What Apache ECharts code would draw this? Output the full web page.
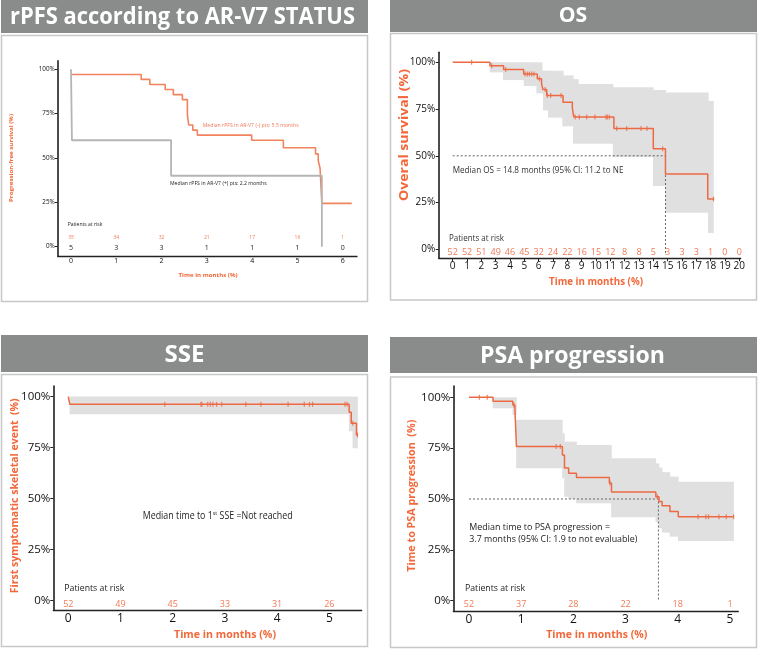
<!DOCTYPE html>
<html><head><meta charset="utf-8">
<script src="https://cdn.jsdelivr.net/npm/echarts@6/dist/echarts.min.js"></script>
<style>html,body{margin:0;padding:0;background:#fff}#c{width:758px;height:650px}</style>
</head><body><div id="c"></div>
<script>
// ================= DATA =================
// Panel 1: rPFS according to AR-V7 status (Kaplan-Meier steps: time in months, survival %)
const rpfsNegT = [0, 1.55, 1.74, 2.08, 2.26, 2.46, 2.57, 2.60, 2.69, 2.79, 3.99, 4.69, 5.40, 5.46, 5.50, 5.54, 6.20];
const rpfsNegS = [97.1, 94.3, 91.4, 88.6, 85.7, 82.9, 74.3, 68.6, 65.7, 62.9, 60.0, 55.8, 52.3, 48.5, 44.2, 24.4, 24.4];
const rpfsPosT = [0, 0.02, 2.21, 5.54];
const rpfsPosS = [100, 60, 40, 0];
const rpfsMonths = [0, 1, 2, 3, 4, 5, 6];
const rpfsRiskNeg = [35, 34, 32, 21, 17, 16, 1];
const rpfsRiskPos = [5, 3, 3, 1, 1, 1, 0];

// Panel 2: OS
const osT = [0, 2.6, 3.55, 4.95, 5.9, 6.2, 6.3, 6.56, 7.7, 8.35, 8.45, 11.25, 14.0, 14.85, 17.8, 18.25];
const osS = [100, 98.1, 96.1, 93.8, 91.2, 88.5, 85.4, 82.2, 78.6, 75.5, 70.8, 64.6, 53.8, 40.3, 26.9, 26.9];
const osCensor = [1.32, 2.72, 3.70, 5.05, 5.21, 5.35, 5.51, 5.67, 6.05, 6.45, 6.60, 6.84, 7.56, 8.55, 8.84, 9.35, 9.93, 10.70, 10.79, 10.93, 11.45, 12.14, 13.14, 13.56, 14.65, 18.2];
const osBandT = [2.6, 3.53, 4.98, 5.86, 6.25, 6.32, 6.67, 7.67, 7.72, 8.42, 8.77, 11.2, 14.0, 14.86, 17.84, 18.2];
const osBandLo = [94.6, 90.5, 87.3, 83.4, 83.4, 74.3, 70.4, 65.8, 65.8, 56.5, 56.5, 49.3, 33.9, 19.6, 8.7];
const osBandHi = [100, 100, 100, 100, 95.5, 95.5, 95.5, 95.5, 93.0, 91.0, 88.4, 86.6, 85.2, 83.8, 79.3];
const osMonths = [0, 1, 2, 3, 4, 5, 6, 7, 8, 9, 10, 11, 12, 13, 14, 15, 16, 17, 18, 19, 20];
const osRisk = [52, 52, 51, 49, 46, 45, 32, 24, 22, 16, 15, 12, 8, 8, 5, 3, 3, 3, 1, 0, 0];
const osMedian = 14.85;

// Panel 3: SSE
const sseT = [0, 0.03, 5.38, 5.42, 5.52, 5.55];
const sseS = [100, 96.2, 92.3, 86.9, 81.2, 81.2];
const sseCensor = [1.85, 2.54, 2.56, 2.67, 2.72, 2.77, 2.84, 2.94, 3.40, 3.69, 4.21, 4.52, 4.62, 4.68, 5.30, 5.34, 5.45, 5.54];
const sseBandT = [0.03, 5.38, 5.45, 5.54];
const sseBandLo = [91.3, 83.0, 74.7];
const sseBandHi = [100, 100, 100];
const sseMonths = [0, 1, 2, 3, 4, 5];
const sseRisk = [52, 49, 45, 33, 31, 26];

// Panel 4: PSA progression
const psaT = [0, 0.46, 0.84, 0.88, 0.91, 1.79, 1.83, 1.91, 2.06, 2.69, 2.73, 3.58, 3.64, 3.70, 3.85, 4.01, 5.07];
const psaS = [100, 98.1, 96.2, 94.2, 75.8, 71.6, 65.2, 62.6, 60.6, 57.9, 53.5, 51.1, 48.8, 46.7, 43.8, 41.3, 41.3];
const psaCensor = [0.2, 0.35, 0.86, 1.67, 1.75, 2.70, 3.61, 4.39, 4.54, 4.59, 4.79, 4.93, 5.07];
const psaBandT = [0.46, 0.84, 0.91, 1.79, 1.83, 1.91, 2.06, 2.73, 3.58, 3.64, 3.70, 3.85, 4.01, 5.07];
const psaBandLo = [94.6, 91.3, 65.1, 60.2, 51.1, 50.0, 47.9, 41.0, 38.6, 35.6, 33.5, 31.5, 29.4];
const psaBandHi = [100, 100, 89.0, 82.3, 78.2, 78.2, 76.5, 70.0, 67.5, 65.5, 63.2, 61.0, 58.5];
const psaMonths = [0, 1, 2, 3, 4, 5];
const psaRisk = [52, 37, 28, 22, 18, 1];
const psaMedian = 3.63;

const yTicks = [0, 25, 50, 75, 100];

// ================= HELPERS =================
const FONT = '"Open Sans", "Noto Sans", sans-serif';
const RED_LINE = '#ec6944';
const RED_TXT = '#f2683a';
const RISK_RED = '#f07a58';
const BAND = '#e0e0e0';

const mctx = document.createElement('canvas').getContext('2d');
function measure(text, size, bold) {
  mctx.font = (bold ? 'bold ' : '') + size + 'px ' + FONT;
  return mctx.measureText(text).width;
}
function txt(text, x, y, size, color, opt) {
  opt = opt || {};
  const w = measure(text, size, opt.bold);
  const sx = opt.width ? opt.width / w : 1;
  const al = opt.align || 'left';
  return {
    type: 'text', x: x, y: y, rotation: opt.rot || 0, scaleX: sx, z: 100,
    style: { text: text, fill: color, font: (opt.bold ? 'bold ' : '') + size + 'px ' + FONT,
      align: al, textAlign: al, verticalAlign: 'middle', textVerticalAlign: 'middle' }
  };
}
function pts(T, S) { return T.map((t, i) => [t, S[i]]); }
function survAt(T, S, t) { let v = S[0]; for (let i = 0; i < T.length; i++) { if (T[i] <= t + 1e-9) v = S[i]; } return v; }
function bandData(T, lo, hi) { const d = []; for (let i = 0; i < lo.length; i++) d.push([T[i], T[i + 1], lo[i], hi[i]]); return d; }

function kmSeries(idx, T, S, color, width, z) {
  return { type: 'line', xAxisIndex: idx, yAxisIndex: idx, data: pts(T, S), step: 'end', symbol: 'none',
    lineStyle: { color: color, width: width }, z: z || 5, silent: true };
}
function bandSeries(idx, T, lo, hi) {
  return { type: 'custom', xAxisIndex: idx, yAxisIndex: idx, data: bandData(T, lo, hi), z: 1, silent: true,
    encode: { x: [0, 1], y: [2, 3] },
    renderItem: function (params, api) {
      const p0 = api.coord([api.value(0), api.value(3)]);
      const p1 = api.coord([api.value(1), api.value(2)]);
      return { type: 'rect', shape: { x: p0[0] - 0.3, y: p0[1], width: p1[0] - p0[0] + 0.6, height: p1[1] - p0[1] },
        style: { fill: BAND } };
    } };
}
function censorSeries(idx, C, T, S, color, h) {
  return { type: 'scatter', xAxisIndex: idx, yAxisIndex: idx, data: C.map(t => [t, survAt(T, S, t)]),
    symbol: 'rect', symbolSize: [1.2, h], itemStyle: { color: color }, z: 6, silent: true };
}
function riskSeries(idx, months, vals, yPos, color, size) {
  return { type: 'custom', xAxisIndex: idx, yAxisIndex: idx, data: months.map((m, i) => [m, yPos, vals[i]]), z: 20, silent: true,
    encode: { x: 0, y: 1 },
    renderItem: function (params, api) {
      const p = api.coord([api.value(0), api.value(1)]);
      return { type: 'text', x: p[0], y: p[1],
        style: { text: String(api.value(2)), fill: color, font: size + 'px ' + FONT,
          align: 'center', textAlign: 'center', verticalAlign: 'middle', textVerticalAlign: 'middle' } };
    } };
}
function medianSeries(idx, med, bottom) {
  return { type: 'line', xAxisIndex: idx, yAxisIndex: idx, data: [[0, 50], [med, 50], [med, bottom]], symbol: 'none',
    lineStyle: { color: '#666', width: 1, type: [2, 2] }, z: 3, silent: true };
}
function xAx(idx, min, max, months, fs, margin, tickLen) {
  return { type: 'value', gridIndex: idx, min: min, max: max, splitLine: { show: false },
    axisLine: { show: true, onZero: false, lineStyle: { color: '#222', width: 1.3 } },
    axisTick: { show: tickLen > 0, length: tickLen, customValues: months, lineStyle: { color: '#222' } },
    axisLabel: { customValues: months, fontSize: fs, color: '#111', margin: margin, fontFamily: FONT } };
}
function yAx(idx, min, max, fs, margin) {
  return { type: 'value', gridIndex: idx, min: min, max: max, splitLine: { show: false },
    axisLine: { show: true, onZero: false, lineStyle: { color: '#111', width: 1.5 } },
    axisTick: { show: true, length: 3, customValues: yTicks, lineStyle: { color: '#222' } },
    axisLabel: { customValues: yTicks, fontSize: fs, color: '#111', margin: margin, fontFamily: FONT, formatter: v => v + '%' } };
}

// ================= GRAPHICS (frames, titles, texts) =================
const TB = '#8a8c8c';
const graphics = [
  { type: 'rect', shape: { x: 1, y: 0, width: 367, height: 33 }, style: { fill: TB } },
  { type: 'rect', shape: { x: 390, y: 0, width: 367, height: 32 }, style: { fill: TB } },
  { type: 'rect', shape: { x: 1, y: 335, width: 367, height: 37 }, style: { fill: TB } },
  { type: 'rect', shape: { x: 390, y: 337, width: 367, height: 36 }, style: { fill: TB } },
  { type: 'rect', shape: { x: 1.5, y: 35.5, width: 366, height: 266 }, style: { fill: 'none', stroke: '#c8c8c8', lineWidth: 1.5 } },
  { type: 'rect', shape: { x: 390.5, y: 33.5, width: 366, height: 266.5 }, style: { fill: 'none', stroke: '#c8c8c8', lineWidth: 1.5 } },
  { type: 'rect', shape: { x: 1.5, y: 374.5, width: 366, height: 272 }, style: { fill: 'none', stroke: '#c8c8c8', lineWidth: 1.5 } },
  { type: 'rect', shape: { x: 390.5, y: 377, width: 366, height: 270.5 }, style: { fill: 'none', stroke: '#c8c8c8', lineWidth: 1.5 } },
  txt('rPFS according to AR-V7 STATUS', 182.5, 17, 23, '#fff', { bold: true, align: 'center', width: 345 }),
  txt('OS', 573, 16, 21, '#fff', { bold: true, align: 'center', width: 28.5 }),
  txt('SSE', 184.5, 355, 23, '#fff', { bold: true, align: 'center', width: 40 }),
  txt('PSA progression', 572.5, 356.5, 23, '#fff', { bold: true, align: 'center', width: 185 }),
  // Panel 1 texts
  txt('Median rPFS in AR-V7 (-) pts: 5.5 months', 202.7, 125.7, 5.5, '#f0785a', { width: 96 }),
  txt('Median rPFS in AR-V7 (+) pts: 2.2 months', 170, 183.3, 5.5, '#222', { width: 96.7 }),
  txt('Patients at risk', 67.7, 224.5, 5, '#222', { width: 34.7 }),
  txt('Progression-free survival (%)', 11, 158, 5.5, RED_TXT, { bold: true, align: 'center', rot: Math.PI / 2, width: 88 }),
  txt('Time in months (%)', 208, 275, 6, RED_TXT, { bold: true, align: 'center', width: 59 }),
  // Panel 2 texts
  txt('Median OS = 14.8 months (95% CI: 11.2 to NE', 452.7, 170.7, 9, '#333', { width: 170.7 }),
  txt('Patients at risk', 449, 238.3, 8.5, '#333', { width: 55 }),
  txt('Overal survival (%)', 405, 135, 12, RED_TXT, { bold: true, align: 'center', rot: Math.PI / 2, width: 132 }),
  txt('Time in months (%)', 596, 281.7, 10.5, RED_TXT, { bold: true, align: 'center', width: 94 }),
  // Panel 3 texts
  { type: 'text', x: 142.7, y: 515.7, z: 100, scaleX: 150 / (measure('Median time to 1 SSE =Not reached', 10) + measure('st', 6)),
    style: { text: '{a|Median time to 1}{s|st}{a| SSE =Not reached}', align: 'left', textAlign: 'left', verticalAlign: 'middle', textVerticalAlign: 'middle',
      rich: { a: { fontSize: 10, fontFamily: FONT, fill: '#222', color: '#222' },
              s: { fontSize: 6, fontFamily: FONT, fill: '#222', color: '#222', verticalAlign: 'top', padding: [0, 0, 5, 0] } } } },
  txt('Patients at risk', 64.3, 589, 8.5, '#222', { width: 60 }),
  txt('First symptomatic skeletal event  (%)', 15, 495.8, 11, RED_TXT, { bold: true, align: 'center', rot: Math.PI / 2, width: 195 }),
  txt('Time in months (%)', 225, 635, 11, RED_TXT, { bold: true, align: 'center', width: 102 }),
  // Panel 4 texts
  txt('Median time to PSA progression =', 469.3, 527.3, 9.5, '#222', { width: 140.7 }),
  txt('3.7 months (95% CI: 1.9 to not evaluable)', 469.3, 539.3, 9.5, '#222', { width: 168 }),
  txt('Patients at risk', 465, 588.3, 8.5, '#222', { width: 60 }),
  txt('Time to PSA progression  (%)', 411.7, 495.7, 11, RED_TXT, { bold: true, align: 'center', rot: Math.PI / 2, width: 152 }),
  txt('Time in months (%)', 596.7, 635, 11, RED_TXT, { bold: true, align: 'center', width: 101 })
];

// ================= OPTION =================
const option = {
  animation: false,
  backgroundColor: '#fff',
  textStyle: { fontFamily: FONT },
  grid: [
    { left: 57.7, top: 60.7, width: 299.3, height: 195.3 },
    { left: 438.7, top: 52.3, width: 302, height: 206 },
    { left: 53.3, top: 386, width: 308.4, height: 224 },
    { left: 453.3, top: 386, width: 285, height: 225 }
  ],
  xAxis: [
    xAx(0, -0.294, 6.316, rpfsMonths, 7, 1.5, 0),
    xAx(1, -0.977, 20.1, osMonths, 10, 3, 3),
    xAx(2, -0.287, 5.62, sseMonths, 12, 3, 0),
    xAx(3, -0.30, 5.16, psaMonths, 12, 3, 0)
  ],
  yAxis: [
    yAx(0, -5.24, 104.85, 6.3, 3),
    yAx(1, -4.81, 105.35, 10, 3.5),
    yAx(2, -4.56, 105.2, 11.5, 3),
    yAx(3, -5.06, 105.55, 11.5, 3)
  ],
  graphic: graphics,
  series: [
    // Panel 1
    kmSeries(0, rpfsNegT, rpfsNegS, '#f2835f', 1.6, 5),
    kmSeries(0, rpfsPosT, rpfsPosS, '#b5b5b5', 1.8, 6),
    riskSeries(0, rpfsMonths, rpfsRiskNeg, 4.9, RISK_RED, 5),
    riskSeries(0, rpfsMonths, rpfsRiskPos, -0.9, '#222', 7),
    // Panel 2
    bandSeries(1, osBandT, osBandLo, osBandHi),
    medianSeries(1, osMedian, -2),
    kmSeries(1, osT, osS, RED_LINE, 1.5, 5),
    censorSeries(1, osCensor, osT, osS, RED_LINE, 5),
    riskSeries(1, osMonths, osRisk, -1.8, RISK_RED, 9),
    // Panel 3
    bandSeries(2, sseBandT, sseBandLo, sseBandHi),
    kmSeries(2, sseT, sseS, RED_LINE, 1.5, 5),
    censorSeries(2, sseCensor, sseT, sseS, RED_LINE, 5),
    riskSeries(2, sseMonths, sseRisk, -1.6, RISK_RED, 9),
    // Panel 4
    bandSeries(3, psaBandT, psaBandLo, psaBandHi),
    medianSeries(3, psaMedian, 0),
    kmSeries(3, psaT, psaS, RED_LINE, 1.5, 5),
    censorSeries(3, psaCensor, psaT, psaS, RED_LINE, 5),
    riskSeries(3, psaMonths, psaRisk, -1.6, RISK_RED, 9)
  ]
};
const chart = echarts.init(document.getElementById('c'), null, { renderer: 'canvas' });
chart.setOption(option);
</script>
</body></html>
